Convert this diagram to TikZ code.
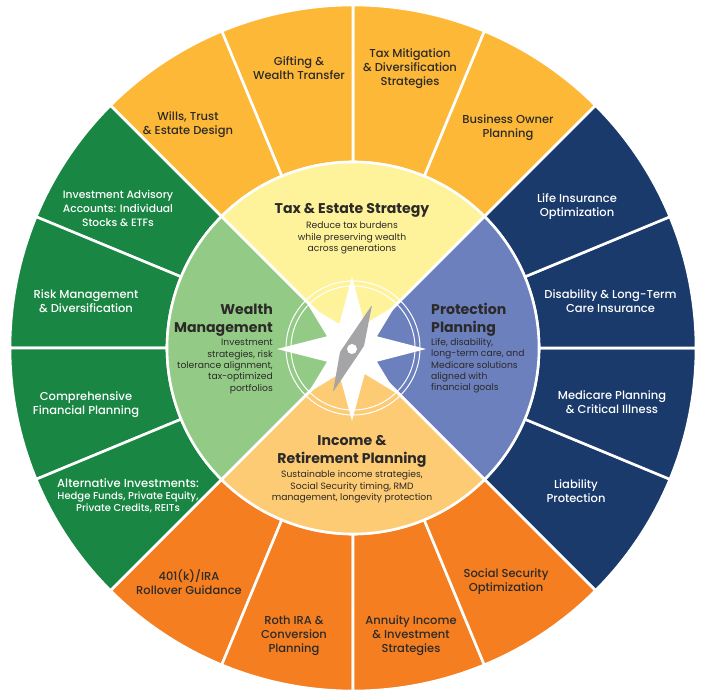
\documentclass[tikz,border=0pt]{standalone}
\usepackage{fontspec}
\setmainfont{Poppins}
\newfontfamily\medf{Poppins Medium}
\definecolor{taxO}{HTML}{FDB838}
\definecolor{protO}{HTML}{1B3A6C}
\definecolor{incO}{HTML}{F47E20}
\definecolor{wealthO}{HTML}{1A8643}
\definecolor{taxI}{HTML}{FEF39B}
\definecolor{protI}{HTML}{6C80BE}
\definecolor{incI}{HTML}{FDCB74}
\definecolor{wealthI}{HTML}{93CB86}
\definecolor{inkdark}{HTML}{2B2A28}
\definecolor{needle}{HTML}{A5A5A8}
\tikzset{
  seg/.style={draw=white,line width=2.6pt,line join=miter},
  lbl/.style={align=center,inner sep=0pt,anchor=center,font=\medf\fontsize{11.5}{14}\selectfont},
  dk/.style={lbl,text=inkdark},
  wh/.style={lbl,text=white},
  ttl/.style={inner sep=0pt,text=inkdark,font=\fontsize{14.1}{18}\selectfont\bfseries},
  subt/.style={inner sep=0pt,text=inkdark,font=\fontsize{9.2}{11.4}\selectfont},
  ringl/.style={draw=white,line width=1pt}
}
\newcommand{\sect}[5]{% start, end, Router, Rinner, colour
  \fill[#5] ($(c)+(#1:#3)$) arc (#1:#2:#3) -- ($(c)+(#2:#4)$) arc (#2:#1:#4) -- cycle;
  \draw[seg] ($(c)+(#1:#3)$) arc (#1:#2:#3) -- ($(c)+(#2:#4)$) arc (#2:#1:#4) -- cycle;}
\usetikzlibrary{calc}
\begin{document}
\begin{tikzpicture}[x=1pt,y=1pt]
\useasboundingbox (0,0) rectangle (708,697);
\fill[white] (0,0) rectangle (708,697);
\coordinate (c) at (353,349);
% outer rings
\foreach \a in {45,67.5,90,112.5}{\pgfmathsetmacro\b{\a+22.5}\sect{\a}{\b}{343pt}{186pt}{taxO}}
\foreach \a in {-45,-22.5,0,22.5}{\pgfmathsetmacro\b{\a+22.5}\sect{\a}{\b}{343pt}{186pt}{protO}}
\foreach \a in {-135,-112.5,-90,-67.5}{\pgfmathsetmacro\b{\a+22.5}\sect{\a}{\b}{343pt}{186pt}{incO}}
\foreach \a in {135,157.5,180,202.5}{\pgfmathsetmacro\b{\a+22.5}\sect{\a}{\b}{343pt}{186pt}{wealthO}}
% inner wedges
\sect{45}{135}{186pt}{0.01pt}{taxI}
\sect{-45}{45}{186pt}{0.01pt}{protI}
\sect{-135}{-45}{186pt}{0.01pt}{incI}
\sect{135}{225}{186pt}{0.01pt}{wealthI}
% compass
\draw[ringl] (c) circle (67pt);
\draw[ringl] (c) circle (62pt);
\coordinate (m) at (352,348);
\fill[white] ($(m)+(90:72pt)$)
  \foreach \t/\r in {63/28,45/62,27/28,0/74,-27/28,-45/62,-63/28,-90/72,-117/28,-135/62,-153/28,180/75,153/28,135/62,117/28}{ -- ($(m)+(\t:\r pt)$)} -- cycle;
\fill[needle,rounded corners=1pt] (372,392) -- (364,351) -- (333,305) -- (340,345) -- cycle;
\fill[white] (352,348) circle (5pt);
% central titles
\node[ttl] (tT) at (352,486.5) {Tax \& Estate Strategy};
\node[subt,align=center] (tS) at (352,459) {Reduce tax burdens\\while preserving wealth\\across generations};
\node[ttl,align=right,anchor=north east] (wT) at (273,393) {Wealth\\Management};
\node[subt,align=right,anchor=north east] (wS) at (273,358) {Investment\\strategies, risk\\tolerance alignment,\\tax-optimized\\portfolios};
\node[ttl,align=left,anchor=north west] (pT) at (431,394) {Protection\\Planning};
\node[subt,align=left,anchor=north west] (pS) at (431,359) {Life, disability,\\long-term care, and\\Medicare solutions\\aligned with\\financial goals};
\node[ttl,align=center] (iT) at (352,246) {Income \&\\Retirement Planning};
\node[subt,align=center] (iS) at (352,210) {Sustainable income strategies,\\Social Security timing, RMD\\management, longevity protection};
% outer labels
\node[dk] (a1) at (188,572.5) {Wills, Trust\\\& Estate Design};
\node[dk] (a2) at (299,629) {Gifting \&\\Wealth Transfer};
\node[dk] (a3) at (410,628) {Tax Mitigation\\\& Diversification\\Strategies};
\node[dk] (a4) at (508,569) {Business Owner\\Planning};
\node[wh] (b1) at (577,490) {Life Insurance\\Optimization};
\node[wh] (b2) at (610.5,396) {Disability \& Long-Term\\Care Insurance};
\node[wh] (b3) at (612,295) {Medicare Planning\\\& Critical Illness};
\node[wh] (b4) at (576,206) {Liability\\Protection};
\node[dk] (c1) at (506,115) {Social Security\\Optimization};
\node[dk] (c2) at (411,61) {Annuity Income\\\& Investment\\Strategies};
\node[dk] (c3) at (294,61) {Roth IRA \&\\Conversion\\Planning};
\node[dk] (c4) at (189,115) {401(k)/IRA\\Rollover Guidance};
\node[wh,font=\medf\fontsize{11.6}{12}\selectfont] (d1) at (128,201.5) {Alternative Investments:\\{\fontsize{10}{12}\selectfont Hedge Funds, Private Equity,}\\{\fontsize{10}{12}\selectfont Private Credits, REITs}};
\node[wh] (d2) at (86,292) {Comprehensive\\Financial Planning};
\node[wh] (d3) at (86,396) {Risk Management\\\& Diversification};
\node[wh,font=\medf\fontsize{10.7}{14}\selectfont] (d4) at (118,489) {Investment Advisory\\Accounts: Individual\\Stocks \& ETFs};
\end{tikzpicture}
\end{document}
